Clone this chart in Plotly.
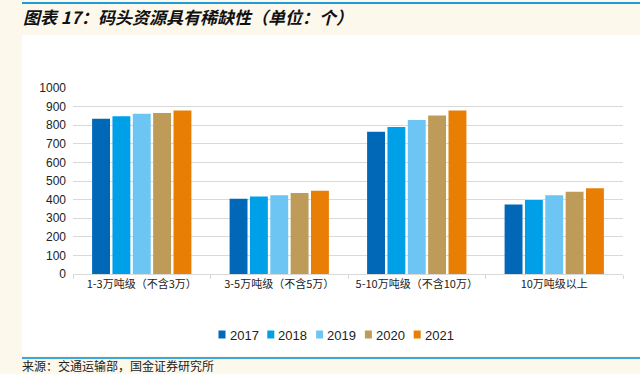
import plotly.graph_objects as go

categories = ["1-3万吨级（不含3万）", "3-5万吨级（不含5万）", "5-10万吨级（不含10万）", "10万吨级以上"]
years = ["2017", "2018", "2019", "2020", "2021"]
values_2017 = [835, 405, 765, 374]
values_2018 = [848, 417, 790, 398]
values_2019 = [861, 424, 828, 424]
values_2020 = [866, 436, 852, 442]
values_2021 = [879, 448, 879, 461]
series = [values_2017, values_2018, values_2019, values_2020, values_2021]
colors = ["#0068B7", "#00A0E9", "#6CC5F2", "#BF9B5A", "#E87E04"]
y_ticks = list(range(0, 1001, 100))

W, H = 640, 374
def px_x(x): return x / W
def px_y(y): return 1 - y / H

fig = go.Figure()
for name, vals, col in zip(years, series, colors):
    fig.add_trace(go.Bar(x=categories, y=vals, name=name, showlegend=False,
                         marker=dict(color=col, line=dict(width=0))))

cream = "#FDF8EC"
shapes = [
    dict(type="rect", xref="paper", yref="paper", x0=px_x(22), x1=1, y0=px_y(356), y1=px_y(35),
         fillcolor="white", line=dict(width=0), layer="below"),
    dict(type="line", xref="paper", yref="paper", x0=px_x(22), x1=1, y0=px_y(3), y1=px_y(3),
         line=dict(color="#1E9BD7", width=2)),
    dict(type="line", xref="paper", yref="paper", x0=px_x(22), x1=1, y0=px_y(358), y1=px_y(358),
         line=dict(color="#3AA8DC", width=2)),
]
annotations = [
    dict(text="<b><i>图表 17：码头资源具有稀缺性（单位：个）</i></b>", xref="paper", yref="paper",
         x=px_x(21), y=px_y(17), xanchor="left", yanchor="middle", showarrow=False,
         font=dict(family="Noto Sans CJK SC", size=17, color="#111111")),
    dict(text="来源：交通运输部，国金证券研究所", xref="paper", yref="paper",
         x=px_x(20), y=px_y(365.5), xanchor="left", yanchor="middle", showarrow=False,
         font=dict(family="Noto Sans CJK SC", size=12, color="#222222")),
]

# legend (squares + labels)
leg_x0, leg_step = 218.5, 48.8
for i, (name, col) in enumerate(zip(years, colors)):
    sx = leg_x0 + i * leg_step
    shapes.append(dict(type="rect", xref="paper", yref="paper",
                       x0=px_x(sx), x1=px_x(sx + 7), y0=px_y(338.5), y1=px_y(330.5),
                       fillcolor=col, line=dict(width=0)))
    annotations.append(dict(text=name, xref="paper", yref="paper",
                            x=px_x(sx + 9), y=px_y(335), xanchor="left", yanchor="middle",
                            showarrow=False,
                            font=dict(family="Liberation Sans, Arial", size=13, color="#222222")))

fig.update_layout(
    width=W, height=H,
    template="none",
    paper_bgcolor=cream,
    plot_bgcolor="white",
    margin=dict(l=0, r=0, t=0, b=0),
    barmode="group",
    bargap=0.26,
    bargroupgap=0.12,
    showlegend=False,
    font=dict(family="Liberation Sans, Arial, Noto Sans CJK SC", size=12, color="#222222"),
    xaxis=dict(
        domain=[px_x(73), px_x(623)],
        automargin=False,
        showline=True, linecolor="#D9D9D9", linewidth=1,
        ticks="outside", tickson="boundaries", ticklen=4, tickcolor="#D9D9D9",
        showgrid=False, tickangle=0,
        tickfont=dict(family="Noto Sans CJK SC", size=11, color="#222222"),
    ),
    yaxis=dict(
        domain=[px_y(274), px_y(88)],
        automargin=False,
        range=[0, 1000],
        tickvals=y_ticks,
        showgrid=True, gridcolor="#D9D9D9", gridwidth=1,
        zeroline=False, showline=False, ticks="",
        ticklabelstandoff=6,
        tickfont=dict(family="Liberation Sans, Arial", size=12, color="#222222"),
    ),
    shapes=shapes,
    annotations=annotations,
)

fig.write_html("out.html", config={"displayModeBar": False},
               post_script="document.body.style.margin='0';document.body.style.background='%s';" % cream)
